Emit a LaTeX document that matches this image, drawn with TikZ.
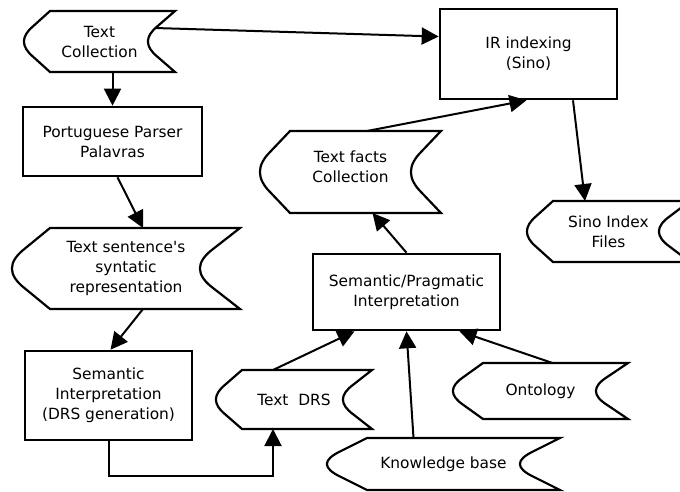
\documentclass[tikz,border=0pt]{standalone}
\usepackage{fontspec}
\setmainfont{DejaVu Sans}[Ligatures=TeXOff]
\usetikzlibrary{arrows.meta,calc}

% outline of a stored data node: node name, left bevel, right hollow
\newcommand{\datashape}[3]{%
  \draw[outline] ([xshift=#2pt]#1.north west)
    -- ($(#1.north west)!0.25!(#1.south west)+(0.35*#2,0)$)
    .. controls ($(#1.north west)!0.42!(#1.south west)+(-0.12*#2,0)$)
           and ($(#1.north west)!0.58!(#1.south west)+(-0.12*#2,0)$)
    .. ($(#1.north west)!0.75!(#1.south west)+(0.35*#2,0)$)
    -- ([xshift=#2pt]#1.south west) -- (#1.south east)
    -- ($(#1.north east)!0.75!(#1.south east)+(-0.65*#3,0)$)
    .. controls ($(#1.north east)!0.58!(#1.south east)+(-1.12*#3,0)$)
           and ($(#1.north east)!0.42!(#1.south east)+(-1.12*#3,0)$)
    .. ($(#1.north east)!0.25!(#1.south east)+(-0.65*#3,0)$)
    -- (#1.north east) -- cycle;}

\begin{document}
\begin{tikzpicture}[x=1pt,y=-1pt,
  font=\fontsize{15.4}{20}\selectfont,
  process/.style={draw, line width=2.6pt, align=center, inner sep=0pt},
  store/.style={align=center, inner sep=0pt, outer sep=0pt},
  outline/.style={line width=2.2pt, line join=miter},
  conn/.style={line width=2pt, -{Triangle[length=17pt,width=17pt]}}]
\useasboundingbox (0,0) rectangle (680,491);
\clip (0,0) rectangle (680,491);

% Stored data
\node[store, minimum width=151pt, minimum height=61pt] (textcoll) at (99.5,41.5) {Text\\Collection};
\node[store, minimum width=228pt, minimum height=81pt] (textsent) at (126,268.5) {Text sentence's\\syntatic\\representation};
\node[store, minimum width=156pt, minimum height=59pt] (textdrs) at (294,399.5) {Text~~DRS};
\node[store, minimum width=233pt, minimum height=52pt] (knowbase) at (443.5,464) {Knowledge base};
\node[store, minimum width=175pt, minimum height=56pt] (ontology) at (540.5,391) {Ontology};
\node[store, minimum width=181pt, minimum height=82pt] (textfacts) at (350.5,172) {Text facts\\Collection\\[-10pt]};
\node[store, minimum width=163pt, minimum height=61pt] (sinofiles) at (608.5,231.5) {Sino Index\\Files};

\datashape{textcoll}{26}{27}
\datashape{textsent}{38}{40}
\datashape{textdrs}{26}{29}
\datashape{knowbase}{40}{40}
\datashape{ontology}{30}{32}
\datashape{textfacts}{30}{30}
\datashape{sinofiles}{26}{31}

% Processes
\node[process, minimum width=179pt, minimum height=69pt] (parser) at (112.5,141.5) {Portuguese Parser\\Palavras};
\node[process, minimum width=167pt, minimum height=89pt] (seminterp) at (108.5,395.5) {Semantic\\Interpretation\\(DRS generation)};
\node[process, minimum width=187pt, minimum height=76pt] (semprag) at (406.5,292) {Semantic/Pragmatic\\Interpretation};
\node[process, minimum width=177pt, minimum height=90pt] (irindex) at (528.5,54) {IR indexing\\(Sino)};

% Connectors
\draw[conn] ($(textcoll.north east)+(-20,17)$) -- (irindex.169);
\draw[conn] (parser.north |- textcoll.south) -- (parser.north);
\draw[conn] ([xshift=5pt]parser.south) -- ([xshift=17pt]textsent.north);
\draw[conn] ([xshift=17pt]textsent.south) -- ([xshift=2pt]seminterp.north);
\draw[conn] (seminterp.south) -- ++(0,35) -| ([xshift=-21pt]textdrs.south);
\draw[conn] ([xshift=-21pt]textdrs.north) -- ([xshift=-52pt]semprag.south);
\draw[conn] ([xshift=-30pt]knowbase.north) -- (semprag.south);
\draw[conn] ([xshift=12pt]ontology.north) -- ([xshift=53pt]semprag.south);
\draw[conn] (semprag.north) -- ([xshift=22pt]textfacts.south);
\draw[conn] ([xshift=16.5pt]textfacts.north) -- ([xshift=-2pt]irindex.south);
\draw[conn] ([xshift=44.5pt]irindex.south) -- ([xshift=-23.5pt]sinofiles.north);
\end{tikzpicture}
\end{document}
